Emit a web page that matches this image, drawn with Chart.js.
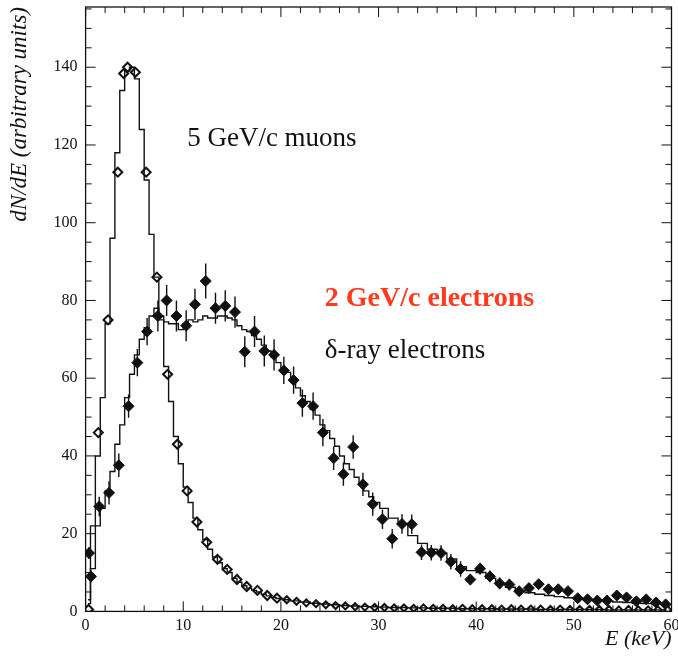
<!DOCTYPE html>
<html>
<head>
<meta charset="utf-8">
<script src="https://cdn.jsdelivr.net/npm/chart.js@4.4.1/dist/chart.umd.min.js"></script>
<style>
  html, body { margin: 0; padding: 0; background: #fff; }
  #wrap { width: 678px; height: 658px; }
</style>
</head>
<body>
<div id="wrap"><canvas id="dedx"></canvas></div>
<script>
// energy loss spectra: 5 GeV/c muons (open) and 2 GeV/c electrons (filled, with errors)
const muonE = [0.3, 1.3, 2.3, 3.3, 3.9, 4.3, 5.1, 6.2, 7.3, 8.4, 9.4, 10.4, 11.4, 12.4, 13.5, 14.5, 15.5, 16.5, 17.6, 18.6, 19.6,
  20.6, 21.6, 22.6, 23.6, 24.6, 25.6, 26.6, 27.6, 28.6, 29.6, 30.6, 31.6, 32.6, 33.6, 34.6, 35.6, 36.6, 37.6, 38.6, 39.6,
  40.6, 41.6, 42.6, 43.6, 44.6, 45.6, 46.6, 47.6, 48.6, 49.6, 50.6, 51.6, 52.6, 53.6, 54.6, 55.6, 56.6, 57.6, 58.6, 59.6];
const muonV = [0.5, 46, 75, 113, 138.4, 140, 138.7, 113, 86, 61, 43, 31, 23, 17.8, 13.4, 10.8, 8.2, 6.4, 5.4, 4.1, 3.4,
  3.0, 2.6, 2.2, 2.0, 1.7, 1.5, 1.4, 1.2, 1.1, 1.0, 1.0, 0.9, 0.9, 0.8, 0.9, 0.8, 0.8, 0.7, 0.8, 0.7,
  0.7, 0.7, 0.6, 0.7, 0.6, 0.6, 0.6, 0.5, 0.6, 0.5, 0.5, 0.5, 0.5, 0.5, 0.4, 0.5, 0.4, 0.4, 0.4, 0.4];

const elecE = [0.35, 0.55, 1.4, 2.4, 3.4, 4.4, 5.3, 6.3, 7.4, 8.3, 9.3, 10.3, 11.2, 12.3, 13.3, 14.3, 15.3, 16.3, 17.3, 18.3, 19.3,
  20.3, 21.3, 22.2, 23.3, 24.3, 25.4, 26.4, 27.4, 28.4, 29.4, 30.4, 31.4, 32.4, 33.4, 34.4, 35.4, 36.4, 37.4, 38.4, 39.4,
  40.4, 41.4, 42.4, 43.4, 44.4, 45.4, 46.4, 47.4, 48.4, 49.4, 50.4, 51.4, 52.4, 53.4, 54.4, 55.4, 56.4, 57.4, 58.4, 59.4];
const elecV = [15, 9, 27, 30.5, 37.6, 52.8, 64, 72, 76, 80, 76, 73.5, 79, 85, 78, 78.6, 77, 66.8, 72, 67, 66,
  62, 59.5, 53.6, 52.8, 46, 39.4, 35.3, 42.3, 32.7, 27.6, 23.7, 18.7, 22.5, 22.4, 15.2, 15.1, 15, 12.8, 10.9, 8.2,
  11, 9, 7.2, 6.9, 5.2, 6, 7, 5.7, 5.7, 5.2, 3.4, 3.1, 2.8, 2.8, 4.1, 3.6, 2.6, 3.1, 2.3, 1.8];
const elecErr = [1.5, 1.5, 2.5, 3, 3, 3, 3.5, 3.5, 4, 4, 4, 4, 4, 4.5, 4, 4, 4, 4, 4, 4, 4,
  3.5, 3.5, 3.5, 3.5, 3.5, 3, 3, 3, 3, 3, 2.5, 2.5, 2.5, 2.5, 2, 2, 2, 2, 2, 1.5,
  1.5, 1.5, 1.5, 1.5, 1.2, 1.2, 1.2, 1.2, 1.2, 1.2, 1, 1, 1, 1, 1, 1, 1, 1, 1, 1];

// simulated histograms, given at bin centres
const muonHistE = [0.25, 0.75, 1.25, 1.75, 2.25, 2.75, 3.25, 3.75, 4.25, 4.75, 5.25, 5.75, 6.25, 6.75, 7.25, 7.75, 8.25, 8.75, 9.25, 9.75,
  10.25, 10.75, 11.25, 11.75, 12.25, 12.75, 13.25, 13.75, 14.25, 14.75, 15.25, 15.75, 16.25, 16.75, 17.25, 17.75, 18.25, 18.75, 19.25, 19.75,
  20.5, 21.5, 22.5, 23.5, 24.5, 25.5, 26.5, 27.5, 28.5, 29.5, 30.5, 31.5, 32.5, 33.5, 34.5, 35.5, 36.5, 37.5, 38.5, 39.5,
  40.5, 41.5, 42.5, 43.5, 44.5, 45.5, 46.5, 47.5, 48.5, 49.5, 50.5, 51.5, 52.5, 53.5, 54.5, 55.5, 56.5, 57.5, 58.5, 59.5];
const muonHistV = [3, 22, 40, 55, 74, 96, 118, 134, 139, 140, 137, 124, 111, 97, 86, 75, 63, 54, 45, 38,
  32, 28, 24, 21, 18.5, 16, 14, 12.5, 11, 10, 8.5, 7.5, 6.6, 6, 5.4, 5, 4.4, 4, 3.6, 3.3,
  3.0, 2.7, 2.4, 2.1, 1.9, 1.7, 1.5, 1.4, 1.3, 1.2, 1.1, 1.0, 1.0, 0.9, 0.9, 0.8, 0.8, 0.8, 0.7, 0.7,
  0.7, 0.7, 0.6, 0.6, 0.6, 0.6, 0.5, 0.5, 0.5, 0.5, 0.5, 0.5, 0.5, 0.4, 0.4, 0.4, 0.4, 0.4, 0.4, 0.4];

const deltaHistE = [0.25, 0.75, 1.25, 1.75, 2.25, 2.75, 3.25, 3.75, 4.25, 4.75, 5.25, 5.75, 6.25, 6.75, 7.25, 7.75, 8.25, 8.75, 9.25, 9.75,
  10.25, 10.75, 11.25, 11.75, 12.25, 12.75, 13.25, 13.75, 14.25, 14.75, 15.25, 15.75, 16.25, 16.75, 17.25, 17.75, 18.25, 18.75, 19.25, 19.75,
  20.25, 20.75, 21.25, 21.75, 22.25, 22.75, 23.25, 23.75, 24.25, 24.75, 25.25, 25.75, 26.25, 26.75, 27.25, 27.75, 28.25, 28.75, 29.25, 29.75,
  30.5, 31.5, 32.5, 33.5, 34.5, 35.5, 36.5, 37.5, 38.5, 39.5, 40.5, 41.5, 42.5, 43.5, 44.5, 45.5, 46.5, 47.5, 48.5, 49.5,
  50.5, 51.5, 52.5, 53.5, 54.5, 55.5, 56.5, 57.5, 58.5, 59.5];
const deltaHistV = [2, 11, 22, 26.5, 31, 36, 43, 48, 55, 61, 66, 70, 73, 76, 78, 76, 74.5, 74, 74, 72.5,
  74, 75, 74.5, 75, 76, 75.5, 75.5, 76, 76, 75.5, 75, 73.5, 72.5, 72, 71, 70, 68.5, 67, 65.5, 64,
  62.5, 61.5, 60, 57.5, 55.5, 54, 52, 50.5, 48, 46.5, 44.5, 42.5, 40, 38, 36.5, 34.5, 33, 31, 29.5, 28,
  26.5, 24, 22.5, 19.5, 17.5, 16, 15, 13.5, 11.5, 10.5, 10, 8.5, 7.2, 6.2, 5.4, 4.8, 4.4, 4.1, 3.8, 3.5,
  3.2, 2.9, 2.7, 2.6, 2.4, 2.3, 2.1, 2.0, 1.8, 1.7];

const xTicks = [0, 10, 20, 30, 40, 50, 60];
const yTicks = [0, 20, 40, 60, 80, 100, 120, 140];
const xMinor = 2;
const yMinor = 5;

const INK = '#111';
const SERIF = "'Liberation Serif', 'DejaVu Serif', serif";

const pts = (xs, ys) => xs.map((x, i) => ({ x: x, y: ys[i] }));

// frame, inward tick marks on all four sides, error bars and text labels
const decorations = {
  id: 'decorations',
  afterDatasetsDraw(chart) {
    const { ctx, scales: { x, y } } = chart;
    ctx.save();
    ctx.strokeStyle = INK;
    ctx.lineWidth = 1.4;
    ctx.beginPath();
    elecE.forEach((e, i) => {
      const px = x.getPixelForValue(e);
      ctx.moveTo(px, y.getPixelForValue(elecV[i] - elecErr[i]));
      ctx.lineTo(px, y.getPixelForValue(elecV[i] + elecErr[i]));
    });
    ctx.stroke();
    ctx.restore();
  },
  afterDraw(chart) {
    const { ctx, chartArea: a, scales: { x, y } } = chart;
    ctx.save();
    ctx.strokeStyle = INK;
    ctx.lineWidth = 1.3;
    ctx.strokeRect(a.left, a.top, a.right - a.left, a.bottom - a.top);

    ctx.lineWidth = 1;
    ctx.beginPath();
    for (let v = x.min; v <= x.max; v += xMinor) {
      const px = x.getPixelForValue(v);
      const len = xTicks.includes(v) ? 10 : 6;
      ctx.moveTo(px, a.bottom); ctx.lineTo(px, a.bottom - len);
      ctx.moveTo(px, a.top); ctx.lineTo(px, a.top + len);
    }
    for (let v = 0; v <= y.max; v += yMinor) {
      const py = y.getPixelForValue(v);
      const len = yTicks.includes(v) ? 10 : 6;
      ctx.moveTo(a.left, py); ctx.lineTo(a.left + len, py);
      ctx.moveTo(a.right, py); ctx.lineTo(a.right - len, py);
    }
    ctx.stroke();

    ctx.textBaseline = 'middle';
    ctx.textAlign = 'left';
    ctx.fillStyle = INK;
    ctx.font = '27px ' + SERIF;
    ctx.fillText('5 GeV/c muons', x.getPixelForValue(10.4), y.getPixelForValue(121.5));
    ctx.fillText('\u03b4-ray electrons', x.getPixelForValue(24.5), y.getPixelForValue(67));
    ctx.fillStyle = '#ff3a1c';
    ctx.font = 'bold 28px ' + SERIF;
    ctx.fillText('2 GeV/c electrons', x.getPixelForValue(24.5), y.getPixelForValue(80.4));
    ctx.restore();
  }
};

new Chart(document.getElementById('dedx'), {
  type: 'scatter',
  data: {
    datasets: [
      {
        data: pts(muonHistE, muonHistV),
        showLine: true, stepped: 'middle',
        borderColor: INK, borderWidth: 1.4, pointRadius: 0
      },
      {
        data: pts(deltaHistE, deltaHistV),
        showLine: true, stepped: 'middle',
        borderColor: INK, borderWidth: 1.4, pointRadius: 0
      },
      {
        data: pts(muonE, muonV),
        pointStyle: 'rectRot',
        pointRadius: (c) => (c.raw && c.raw.x > 20 ? 3.5 : 4.5),
        backgroundColor: '#fff', borderColor: INK, borderWidth: 2
      },
      {
        data: pts(elecE, elecV),
        pointStyle: 'rectRot', pointRadius: 5.5,
        backgroundColor: INK, borderColor: INK, borderWidth: 1
      }
    ]
  },
  options: {
    responsive: true,
    maintainAspectRatio: false,
    animation: false,
    events: [],
    layout: { padding: 0 },
    plugins: { legend: { display: false }, tooltip: { enabled: false } },
    scales: {
      x: {
        type: 'linear', min: 0, max: 60,
        afterBuildTicks: (s) => { s.ticks = xTicks.map((v) => ({ value: v })); },
        afterFit: (s) => { s.paddingRight = 6; },
        grid: { display: false, drawTicks: false },
        border: { display: false },
        ticks: { color: INK, font: { family: SERIF, size: 16 }, padding: 5, maxRotation: 0 },
        title: {
          display: true, text: 'E (keV)', align: 'end', color: INK,
          font: { family: SERIF, size: 22, style: 'italic' },
          padding: { top: -15, bottom: 6 }
        }
      },
      y: {
        type: 'linear', min: 0, max: 155.5,
        afterBuildTicks: (s) => { s.ticks = yTicks.map((v) => ({ value: v })); },
        afterFit: (s) => { s.paddingTop = 7; },
        grid: { display: false, drawTicks: false },
        border: { display: false },
        ticks: { color: INK, font: { family: SERIF, size: 16 }, padding: 8 },
        title: {
          display: true, text: 'dN/dE (arbitrary units)', align: 'end', color: INK,
          font: { family: SERIF, size: 23, style: 'italic' },
          padding: { top: 6, bottom: 12 }
        }
      }
    }
  },
  plugins: [decorations]
});
</script>
</body>
</html>
